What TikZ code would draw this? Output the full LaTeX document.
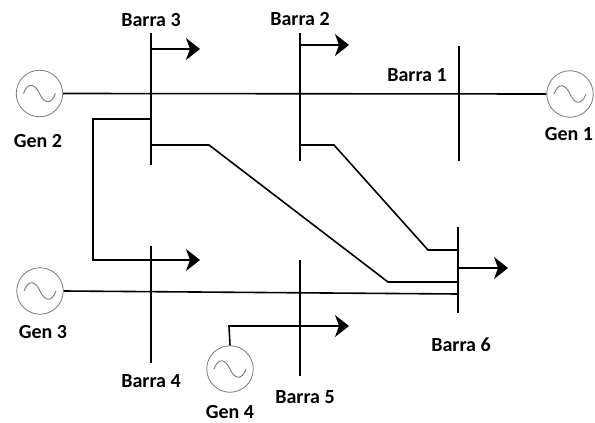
\documentclass[tikz,border=0pt]{standalone}
\usepackage{fontspec}
\setmainfont{Carlito}
\usetikzlibrary{arrows.meta}
\definecolor{cinza}{RGB}{120,120,120}
\tikzset{
    linha/.style={line width=1.6pt, black},
    carga/.style={linha, -{Stealth[length=14pt, width=22pt, inset=4pt]}},
    gerador/.style={circle, draw=cinza, line width=0.8pt, minimum size=46.5pt, inner sep=0pt,
        path picture={\draw[cinza, line width=0.9pt, shift={(path picture bounding box.center)}]
            (-16,0) .. controls (-12,-11) and (-5,-11) .. (0,0) .. controls (5,11) and (12,11) .. (16,0);}},
    rotulo/.style={font=\fontsize{20}{22}\selectfont\bfseries, inner sep=0pt},
}

\begin{document}
\begin{tikzpicture}[x=1pt, y=-1pt]
    \useasboundingbox (0,0) rectangle (595,423);

    % Geradores
    \node[gerador] (G1) at (570,94) {};
    \node[gerador] (G2) at (39.5,93.5) {};
    \node[gerador] (G3) at (40,291) {};
    \node[gerador] (G4) at (230,369) {};

    % Barras
    \coordinate (B1a) at (459,46);
    \coordinate (B1b) at (459,161);
    \coordinate (B2a) at (300,33);
    \coordinate (B2b) at (300,161);
    \coordinate (B3a) at (151,33);
    \coordinate (B3b) at (151,165);
    \coordinate (B4a) at (151,246);
    \coordinate (B4b) at (151,363);
    \coordinate (B5a) at (300,260);
    \coordinate (B5b) at (300,376);
    \coordinate (B6a) at (458,227);
    \coordinate (B6b) at (458,313);
    \draw[linha] (B1a) -- (B1b);
    \draw[linha] (B2a) -- (B2b);
    \draw[linha] (B3a) -- (B3b);
    \draw[linha] (B4a) -- (B4b);
    \draw[linha] (B5a) -- (B5b);
    \draw[linha] (B6a) -- (B6b);

    % Linhas de transmissao
    \coordinate (J3a) at (151,119);
    \coordinate (J3b) at (151,145);
    \coordinate (J2) at (300,145);
    \coordinate (J6a) at (458,250);
    \coordinate (J6b) at (458,282);
    \coordinate (J6c) at (458,294);
    \draw[linha] (G2.east) -- (G1.west);
    \draw[linha] (G3.east) -- (J6c);
    \draw[linha] (J3b) -- (209,145) -- (388,282) -- (J6b);
    \draw[linha] (J2) -- (334,145) -- (428,250) -- (J6a);

    % Cargas
    \coordinate (C3) at (151,49);
    \coordinate (C3f) at (200,49);
    \coordinate (C2) at (300,45);
    \coordinate (C2f) at (349,45);
    \coordinate (C4f) at (200,260);
    \coordinate (C5f) at (349,326);
    \coordinate (C6) at (458,268);
    \coordinate (C6f) at (508,268);
    \draw[carga] (C3) -- (C3f);
    \draw[carga] (C2) -- (C2f);
    \draw[carga] (J3a) -- (93,119) -- (93,260) -- (C4f);
    \draw[carga] (G4.north) -- (229,326) -- (C5f);
    \draw[carga] (C6) -- (C6f);

    % Rotulos
    \node[rotulo] (L1) at (417,75) {Barra 1};
    \node[rotulo] (L2) at (300,19) {Barra 2};
    \node[rotulo] (L3) at (151,20) {Barra 3};
    \node[rotulo] (L4) at (151,381) {Barra 4};
    \node[rotulo] (L5) at (305,397) {Barra 5};
    \node[rotulo] (L6) at (461,345) {Barra 6};
    \node[rotulo] (N1) at (569,134) {Gen 1};
    \node[rotulo] (N2) at (38,141) {Gen 2};
    \node[rotulo] (N3) at (43,332) {Gen 3};
    \node[rotulo] (N4) at (230,412) {Gen 4};
\end{tikzpicture}
\end{document}
